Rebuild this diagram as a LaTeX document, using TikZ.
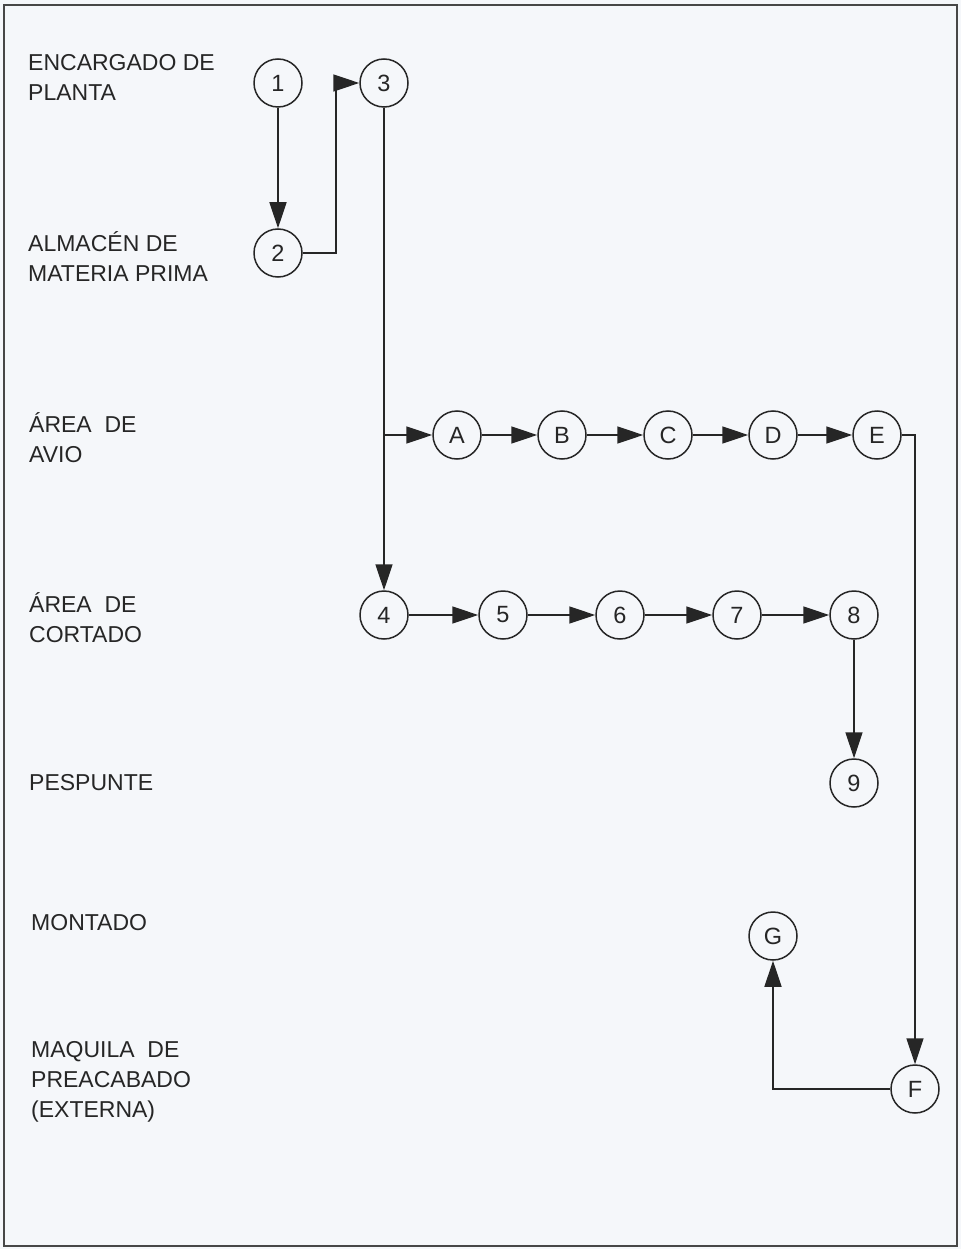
\documentclass[tikz,border=0pt]{standalone}
\usepackage{fontspec}
\setmainfont{Liberation Sans}
\usetikzlibrary{arrows.meta}
\definecolor{bg}{HTML}{F5F7FA}
\definecolor{ink}{HTML}{262626}
\begin{document}
\begin{tikzpicture}[x=1pt,y=-1pt,
 st/.style={circle,draw=ink,line width=1.5pt,minimum size=48pt,inner sep=0pt,font=\fontsize{23.5}{23.5}\selectfont,text=ink},
 lbl/.style={anchor=west,align=left,font=\fontsize{23}{30}\selectfont,text=ink,inner sep=0pt},
 flow/.style={draw=ink,line width=1.5pt,-{Triangle[length=26pt,width=17pt]}},
 wire/.style={draw=ink,line width=1.5pt}]
\useasboundingbox (0,0) rectangle (961,1249);
\fill[bg] (0,0) rectangle (961,1249);
\draw[ink!85,line width=1.5pt] (4,5) rectangle (957,1246);
% labels
\node[lbl] (l1) at (28,77) {ENCARGADO DE\\PLANTA};
\node[lbl] (l2) at (28,257) {ALMACÉN DE\\MATERIA PRIMA};
\node[lbl] (l3) at (29,438) {ÁREA~ DE\\AVIO};
\node[lbl] (l4) at (29,618) {ÁREA~ DE\\CORTADO};
\node[lbl] (l5) at (29,783) {PESPUNTE};
\node[lbl] (l6) at (31,923) {MONTADO};
\node[lbl] (l7) at (31,1082) {MAQUILA~ DE\\PREACABADO\\(EXTERNA)};
% nodes
\node[st] (n1) at (278,83) {1};
\node[st] (n3) at (384,83) {3};
\node[st] (n2) at (278,253) {2};
\node[st] (nA) at (457,435) {A};
\node[st] (nB) at (562,435) {B};
\node[st] (nC) at (668,435) {C};
\node[st] (nD) at (773,435) {D};
\node[st] (nE) at (877,435) {E};
\node[st] (n4) at (384,615) {4};
\node[st] (n5) at (503,615) {5};
\node[st] (n6) at (620,615) {6};
\node[st] (n7) at (737,615) {7};
\node[st] (n8) at (854,615) {8};
\node[st] (n9) at (854,783) {9};
\node[st] (nG) at (773,936) {G};
\node[st] (nF) at (915,1089) {F};
\coordinate (br) at (384,435);
% connectors
\draw[flow] (n1) -- (n2);
\draw[flow] (n2.east) -- ++(33,0) |- (n3.west);
\draw[flow] (n3) -- (n4);
\draw[flow] (br) -- (nA);
\draw[flow] (nA) -- (nB);
\draw[flow] (nB) -- (nC);
\draw[flow] (nC) -- (nD);
\draw[flow] (nD) -- (nE);
\draw[flow] (nE.east) -| (nF.north);
\draw[flow] (n4) -- (n5);
\draw[flow] (n5) -- (n6);
\draw[flow] (n6) -- (n7);
\draw[flow] (n7) -- (n8);
\draw[flow] (n8) -- (n9);
\draw[flow] (nF.west) -| (nG.south);
\end{tikzpicture}
\end{document}
